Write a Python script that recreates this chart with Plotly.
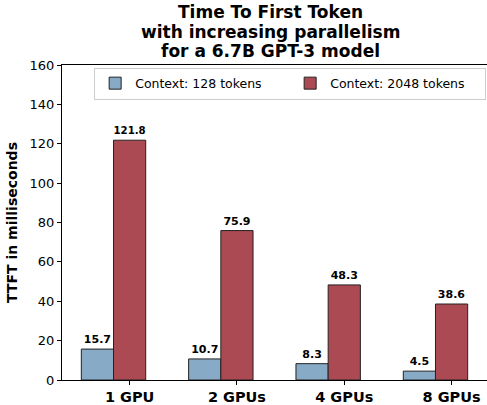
import plotly.graph_objects as go

categories = ["1 GPU", "2 GPUs", "4 GPUs", "8 GPUs"]
ctx128 = [15.7, 10.7, 8.3, 4.5]
ctx2048 = [121.8, 75.9, 48.3, 38.6]
title_lines = ["Time To First Token", "with increasing parallelism", "for a 6.7B GPT-3 model"]

width = 0.3
pos = list(range(len(categories)))
pos_blue = pos
pos_red = [p + width for p in pos]

FONT = "DejaVu Sans"

fig = go.Figure()
fig.add_trace(go.Bar(
    x=pos_blue, y=ctx128, width=width, name="Context: 128 tokens",
    marker=dict(color="#87AAC6", line=dict(color="#222222", width=1)),
    text=[f"{v:.1f}" for v in ctx128], textposition="outside",
    textfont=dict(family=FONT, size=11, color="black", weight="bold"),
    cliponaxis=False,
))
fig.add_trace(go.Bar(
    x=pos_red, y=ctx2048, width=width, name="Context: 2048 tokens",
    marker=dict(color="#AB4A52", line=dict(color="#222222", width=1)),
    text=[f"{v:.1f}" for v in ctx2048], textposition="outside",
    textfont=dict(family=FONT, size=11, color="black", weight="bold"),
    cliponaxis=False,
))

# Title as three centred lines
for i, (line, ypx) in enumerate(zip(title_lines, [12, 32, 51])):
    fig.add_annotation(
        text=f"<b>{line}</b>", xref="paper", yref="paper",
        x=(270 - 62) / 425, y=1 + (65 - ypx) / 315,
        xanchor="center", yanchor="middle", showarrow=False,
        font=dict(family=FONT, size=17, color="black"),
    )

fig.update_layout(
    width=487, height=405,
    margin=dict(l=62, r=0, t=65, b=25),
    barmode="overlay",
    paper_bgcolor="white", plot_bgcolor="white",
    font=dict(family=FONT, color="black"),
    showlegend=True,
    legend=dict(
        orientation="h", x=0.998, xanchor="right", y=0.992, yanchor="top",
        bgcolor="white", bordercolor="#CCCCCC", borderwidth=1,
        font=dict(family=FONT, size=12.5, color="black"),
        traceorder="normal", entrywidth=150, itemwidth=30,
    ),
    xaxis=dict(
        range=[-0.33, 3.63],
        tickvals=pos_red, ticktext=[f"<b>{c}</b>" for c in categories],
        tickfont=dict(family=FONT, size=14.5, color="black"),
        ticks="outside", ticklen=4, tickcolor="black",
        showline=True, linecolor="black", linewidth=1, mirror=True,
        showgrid=False, zeroline=False,
    ),
    yaxis=dict(
        range=[0, 160], dtick=20,
        tickfont=dict(family=FONT, size=13, color="black"),
        ticks="outside", ticklen=4, tickcolor="black",
        showline=True, linecolor="black", linewidth=1, mirror=True,
        showgrid=False, zeroline=False,
        title=dict(text="<b>TTFT in milliseconds</b>",
                   font=dict(family=FONT, size=14, color="black"), standoff=8),
    ),
)

fig.write_html("out.html", config={"displayModeBar": False},
               post_script="document.body.style.margin='0';document.body.style.overflow='hidden';")
